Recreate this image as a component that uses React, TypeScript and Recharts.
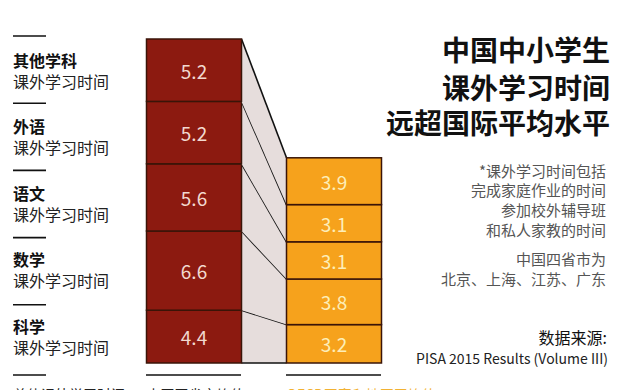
import React from 'react';
import { BarChart, Bar, XAxis, YAxis } from 'recharts';

// Subjects listed bottom-to-top of the stacks
const subjects = ['科学', '数学', '语文', '外语', '其他学科'];
const chinaHours = [4.4, 6.6, 5.6, 5.2, 5.2];
const oecdHours = [3.2, 3.8, 3.1, 3.1, 3.9];
const groups = ['中国四省市均值', 'OECD国家和地区平均值'];
const subjectSubtitle = '课外学习时间';
const totalLabel = '总体课外学习时间';
const titleLines = ['中国中小学生', '课外学习时间', '远超国际平均水平'];
const noteLines = ['*课外学习时间包括', '完成家庭作业的时间', '参加校外辅导班', '和私人家教的时间'];
const regionLines = ['中国四省市为', '北京、上海、江苏、广东'];
const sourceTitle = '数据来源:';
const sourceText = 'PISA 2015 Results (Volume III)';

const W = 624;
const H = 390;
const EXTRA = 20;
const PLOT_BOTTOM = 363;
const MARGIN = { top: 39, right: 220.5, bottom: 0, left: 123.5 };
const BAND = (W - MARGIN.left - MARGIN.right) / groups.length;
const BAR_SIZE = 95;

const RED = '#8c1a10';
const ORANGE = '#f6a21c';
const EDGE = '#3a1408';
const GAP_FILL = '#e6dddc';
const FONT = '"Noto Sans CJK SC", "Noto Sans", sans-serif';

const sum = (a: number[]) => a.reduce((s, v) => s + v, 0);

const data = groups.map((g, gi) => {
  const row: Record<string, any> = { group: g };
  subjects.forEach((s, si) => {
    row[s] = (gi === 0 ? chinaHours : oecdHours)[si];
  });
  return row;
});

function Segment(props: any) {
  const { x, y, width, height, index, si } = props;
  if (x == null || y == null || !height) return null;
  const isChina = index === 0;
  const vals = isChina ? chinaHours : oecdHours;
  const v = vals[si];
  const parts: React.ReactNode[] = [];
  if (isChina) {
    const k = height / v;
    const base = y + height + k * sum(chinaHours.slice(0, si));
    const oTop = base - k * sum(oecdHours.slice(0, si + 1));
    const oBot = base - k * sum(oecdHours.slice(0, si));
    const x1 = x + width;
    const x2 = x + BAND;
    parts.push(
      <polygon
        key="p"
        points={`${x1},${y} ${x2},${oTop} ${x2},${oBot} ${x1},${y + height}`}
        fill={GAP_FILL}
      />
    );
    parts.push(<line key="l" x1={x1} y1={y} x2={x2} y2={oTop} stroke="#111" strokeWidth={1.6} />);
    if (si === 0) {
      parts.push(
        <line key="b" x1={x1} y1={y + height} x2={x2} y2={oBot} stroke="#111" strokeWidth={1.6} />
      );
    }
  }
  return (
    <g>
      {parts}
      <rect
        x={x}
        y={y}
        width={width}
        height={height}
        fill={isChina ? RED : ORANGE}
        stroke={EDGE}
        strokeWidth={1.5}
      />
      <text
        x={x + width / 2}
        y={y + height / 2}
        textAnchor="middle"
        dominantBaseline="central"
        fontSize={19}
        fontFamily={FONT}
        fill={isChina ? '#f2d9cf' : '#fdeeb8'}
      >
        {v.toFixed(1)}
      </text>
    </g>
  );
}

function GroupTick(props: any) {
  const { x, y, payload, index } = props;
  return (
    <g>
      <line x1={x - 47.5} x2={x + 47.5} y1={y + 12} y2={y + 12} stroke="#111" strokeWidth={1.6} />
      <text
        x={x - 47}
        y={y + 37}
        fontSize={14}
        fontFamily={FONT}
        fill={index === 0 ? '#222' : '#f2b233'}
      >
        {payload.value}
      </text>
    </g>
  );
}

export default function App() {
  const topDown = subjects.slice().reverse();
  return (
    <div
      style={{
        position: 'absolute',
        left: 0,
        top: 0,
        width: W,
        height: H,
        overflow: 'hidden',
        background: '#fff',
        fontFamily: FONT,
      }}
    >
      <BarChart width={W} height={H + EXTRA} data={data} margin={MARGIN}>
        <XAxis
          dataKey="group"
          height={H + EXTRA - PLOT_BOTTOM}
          axisLine={false}
          tickLine={false}
          tickSize={0}
          tickMargin={0}
          interval={0}
          tick={<GroupTick />}
        />
        <YAxis hide domain={[0, 'dataMax']} />
        {subjects.map((s, si) => (
          <Bar
            key={s}
            dataKey={s}
            stackId="a"
            barSize={BAR_SIZE}
            isAnimationActive={false}
            shape={(p: any) => <Segment {...p} si={si} />}
          />
        ))}
      </BarChart>
      <svg
        width={W}
        height={H + EXTRA}
        style={{ position: 'absolute', left: 0, top: 0, pointerEvents: 'none' }}
        fontFamily={FONT}
      >
        {topDown.map((s, i) => (
          <g key={s}>
            <line x1={13} x2={46} y1={36 + 67.2 * i} y2={36 + 67.2 * i} stroke="#111" strokeWidth={1.6} />
            <text x={13} y={59.5 + 66.5 * i} fontSize={16} fontWeight={700} fill="#111" dominantBaseline="central">
              {s}
            </text>
            <text x={13} y={80.5 + 66.6 * i} fontSize={16} fill="#222" dominantBaseline="central">
              {subjectSubtitle}
            </text>
          </g>
        ))}
        <line x1={13} x2={46} y1={375} y2={375} stroke="#111" strokeWidth={1.6} />
        <text x={13} y={400} fontSize={14} fill="#222">
          {totalLabel}
        </text>
        {titleLines.map((t, i) => (
          <text
            key={t}
            x={610}
            y={[49, 87, 122][i]}
            textAnchor="end"
            dominantBaseline="central"
            fontSize={28}
            fontWeight={700}
            fill="#111"
          >
            {t}
          </text>
        ))}
        {noteLines.map((t, i) => (
          <text key={t} x={606} y={170 + 19.7 * i} textAnchor="end" dominantBaseline="central" fontSize={15} fill="#555">
            {t}
          </text>
        ))}
        {regionLines.map((t, i) => (
          <text key={t} x={606} y={258 + 20 * i} textAnchor="end" dominantBaseline="central" fontSize={15} fill="#555">
            {t}
          </text>
        ))}
        <text x={607} y={337} textAnchor="end" dominantBaseline="central" fontSize={16} fill="#111">
          {sourceTitle}
        </text>
        <text x={608} y={358} textAnchor="end" dominantBaseline="central" fontSize={14} fill="#222">
          {sourceText}
        </text>
      </svg>
    </div>
  );
}
